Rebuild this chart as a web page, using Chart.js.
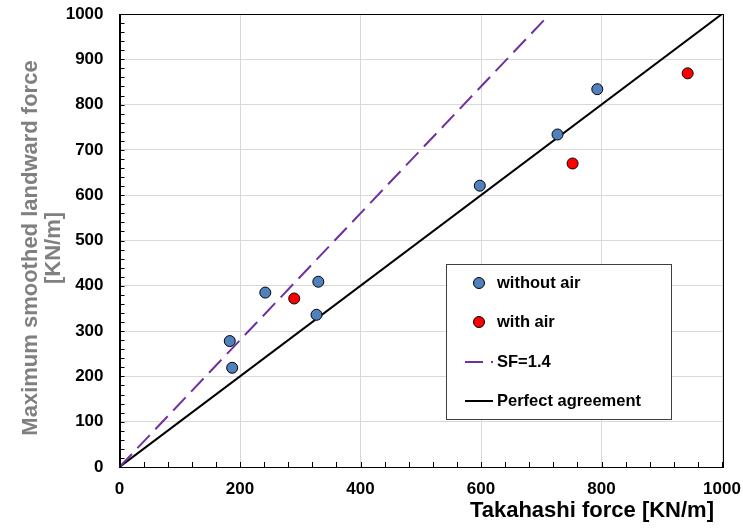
<!DOCTYPE html>
<html>
<head>
<meta charset="utf-8">
<script src="https://cdn.jsdelivr.net/npm/chart.js@4/dist/chart.umd.min.js"></script>
<style>
  html, body { margin: 0; padding: 0; background: #fff; }
  #wrap { width: 743px; height: 529px; }
</style>
</head>
<body>
<div id="wrap"><canvas id="c" width="743" height="529"></canvas></div>
<script>
// Measured forces [KN/m]
const withoutAirX = [183, 187, 242, 330, 327, 598, 727, 793];
const withoutAirY = [278, 219, 385, 409, 336, 621, 734, 834];
const withAirX = [290, 752, 943];
const withAirY = [372, 670, 869];

// Reference lines
const sfLineX = [0, 714.3];
const sfLineY = [0, 1000];
const perfectX = [0, 1000];
const perfectY = [0, 1000];

const xTicks = [0, 200, 400, 600, 800, 1000];
const yTicks = [0, 100, 200, 300, 400, 500, 600, 700, 800, 900, 1000];

const seriesLabels = ['without air', 'with air', 'SF=1.4', 'Perfect agreement'];

const pts = (xs, ys) => xs.map((x, i) => ({ x: x, y: ys[i] }));
const FONT = '"Liberation Sans", Arial, sans-serif';

// Inward minor ticks, full frame, axis titles and the boxed legend
const decorations = {
  id: 'decorations',
  afterDraw(chart) {
    const ctx = chart.ctx;
    const a = chart.chartArea;
    const xs = chart.scales.x, ys = chart.scales.y;
    ctx.save();
    ctx.strokeStyle = '#000';
    ctx.lineWidth = 1;
    ctx.beginPath();
    for (let v = 0; v <= 1000; v += 40) {
      const px = Math.round(xs.getPixelForValue(v)) + 0.5;
      ctx.moveTo(px, a.bottom);
      ctx.lineTo(px, a.bottom - 5);
    }
    for (let v = 0; v <= 1000; v += 20) {
      const py = Math.round(ys.getPixelForValue(v)) + 0.5;
      ctx.moveTo(a.left, py);
      ctx.lineTo(a.left + 5, py);
    }
    ctx.stroke();
    ctx.strokeRect(Math.round(a.left) + 0.5, Math.round(a.top) + 0.5,
                   Math.round(a.right - a.left), Math.round(a.bottom - a.top));

    // axis titles
    ctx.font = 'bold 22px ' + FONT;
    ctx.fillStyle = '#000';
    ctx.textAlign = 'right';
    ctx.textBaseline = 'middle';
    ctx.fillText('Takahashi force [KN/m]', 714, 511);

    ctx.save();
    ctx.translate(31, 248);
    ctx.rotate(-Math.PI / 2);
    ctx.fillStyle = '#808080';
    ctx.textAlign = 'center';
    ctx.fillText('Maximum smoothed landward force', 0, 0);
    ctx.fillText('[KN/m]', 0, 23);
    ctx.restore();

    // legend
    const bx = 446, by = 264, bw = 225, bh = 155;
    ctx.fillStyle = '#fff';
    ctx.fillRect(bx, by, bw, bh);
    ctx.strokeStyle = '#404040';
    ctx.lineWidth = 1;
    ctx.strokeRect(bx + 0.5, by + 0.5, bw, bh);
    const rows = [283, 322, 362, 401];
    ctx.font = 'bold 16.5px ' + FONT;
    ctx.textAlign = 'left';
    ctx.textBaseline = 'middle';
    chart.data.datasets.forEach((ds, i) => {
      const cy = rows[i];
      if (ds.showLine) {
        const dashed = ds.borderDash && ds.borderDash.length;
        ctx.strokeStyle = ds.borderColor;
        ctx.lineWidth = 2;
        ctx.setLineDash(dashed ? [18, 8] : []);
        ctx.beginPath();
        ctx.moveTo(465, cy);
        ctx.lineTo(493, cy);
        ctx.stroke();
        ctx.setLineDash([]);
      } else {
        ctx.fillStyle = ds.backgroundColor;
        ctx.strokeStyle = '#000';
        ctx.lineWidth = 1;
        ctx.beginPath();
        ctx.arc(479, cy, 5.5, 0, Math.PI * 2);
        ctx.fill();
        ctx.stroke();
      }
      ctx.fillStyle = '#000';
      ctx.fillText(ds.label, 497, cy);
    });
    ctx.restore();
  }
};

// fixed axis sizes; labels may overhang the plot edges without shrinking it
const fixX = s => { s.height = 62; s.paddingLeft = 0; s.paddingRight = 0; };
const fixY = s => { s.width = 119.5; s.paddingTop = 0; s.paddingBottom = 0; };

new Chart(document.getElementById('c'), {
  type: 'scatter',
  data: {
    datasets: [
      {
        label: seriesLabels[0],
        data: pts(withoutAirX, withoutAirY),
        backgroundColor: '#4F81BD',
        borderColor: '#000',
        borderWidth: 1,
        pointRadius: 5.5,
        showLine: false,
        order: 0
      },
      {
        label: seriesLabels[1],
        data: pts(withAirX, withAirY),
        backgroundColor: '#FF0000',
        borderColor: '#000',
        borderWidth: 1,
        pointRadius: 5.5,
        showLine: false,
        order: 1
      },
      {
        label: seriesLabels[2],
        data: pts(sfLineX, sfLineY),
        borderColor: '#7030A0',
        backgroundColor: '#7030A0',
        borderWidth: 2,
        borderDash: [18, 8],
        pointRadius: 0,
        showLine: true,
        order: 2
      },
      {
        label: seriesLabels[3],
        data: pts(perfectX, perfectY),
        borderColor: '#000',
        backgroundColor: '#000',
        borderWidth: 2,
        pointRadius: 0,
        showLine: true,
        order: 3
      }
    ]
  },
  options: {
    responsive: false,
    animation: false,
    layout: { padding: { top: 14, right: 21, left: 0, bottom: 0 } },
    plugins: { legend: { display: false }, tooltip: { enabled: false } },
    scales: {
      x: {
        type: 'linear',
        min: 0, max: 1000,
        afterBuildTicks: s => { s.ticks = xTicks.map(v => ({ value: v })); },
        afterFit: fixX,
        grid: { color: '#D9D9D9', lineWidth: 1, drawTicks: false },
        border: { color: '#000' },
        ticks: {
          color: '#000', padding: 12,
          font: { family: FONT, size: 17, weight: 'bold' },
          callback: v => String(v)
        }
      },
      y: {
        type: 'linear',
        min: 0, max: 1000,
        afterBuildTicks: s => { s.ticks = yTicks.map(v => ({ value: v })); },
        afterFit: fixY,
        grid: { color: '#D9D9D9', lineWidth: 1, drawTicks: false },
        border: { color: '#000' },
        ticks: {
          color: '#000', padding: 16,
          font: { family: FONT, size: 17, weight: 'bold' },
          callback: v => String(v)
        }
      }
    }
  },
  plugins: [decorations]
});
</script>
</body>
</html>
